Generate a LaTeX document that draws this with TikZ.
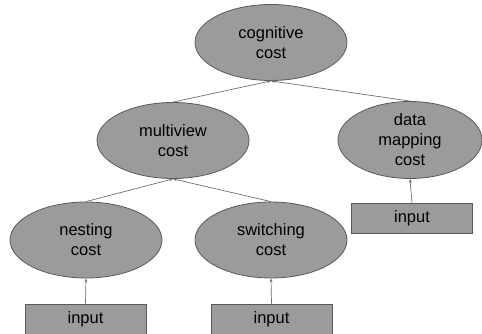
\documentclass[tikz,border=0pt]{standalone}
\usepackage{fontspec}
\setmainfont{Liberation Sans}
\usetikzlibrary{shapes.geometric,arrows.meta}
\definecolor{boxfill}{RGB}{155,155,155}
\definecolor{boxline}{RGB}{90,90,90}
\definecolor{linkline}{RGB}{110,110,110}
\begin{document}
\begin{tikzpicture}[x=1pt,y=-1pt,
  costnode/.style={ellipse, draw=boxline, fill=boxfill, line width=0.8pt,
    minimum width=152pt, minimum height=76pt, inner sep=0pt,
    align=center, font=\fontsize{16.5}{20}\selectfont},
  inputbox/.style={rectangle, draw=boxline, fill=boxfill, line width=0.8pt,
    minimum width=121pt, minimum height=30pt, inner sep=0pt,
    font=\fontsize{16.5}{20}\selectfont},
  link/.style={draw=linkline, line width=0.7pt, -{Stealth[length=4pt,width=3pt]}}]
\useasboundingbox (0,0) rectangle (482,334);
% cost hierarchy
\node[costnode] (cog) at (271,42.5) {cognitive\\cost};
\node[costnode] (multi) at (173,140.5) {multiview\\cost};
\node[costnode, minimum width=144pt, minimum height=77pt] (data) at (410,140) {data\\mapping\\cost};
\node[costnode] (nest) at (86,240) {nesting\\cost};
\node[costnode] (switch) at (271,240) {switching\\cost};
% inputs
\node[inputbox] (in1) at (85.5,319) {input};
\node[inputbox] (in2) at (271.5,319) {input};
\node[inputbox] (in3) at (412,218.5) {input};
% connectors
\draw[link] (multi.north) -- (cog.south);
\draw[link] (data.north) -- (cog.south);
\draw[link] (nest.north) -- (multi.south);
\draw[link] (switch.north) -- (multi.south);
\draw[link] (in1.north) -- (nest.south);
\draw[link] (in2.north) -- (switch.south);
\draw[link] (in3.north) -- (data.south);
\end{tikzpicture}
\end{document}
